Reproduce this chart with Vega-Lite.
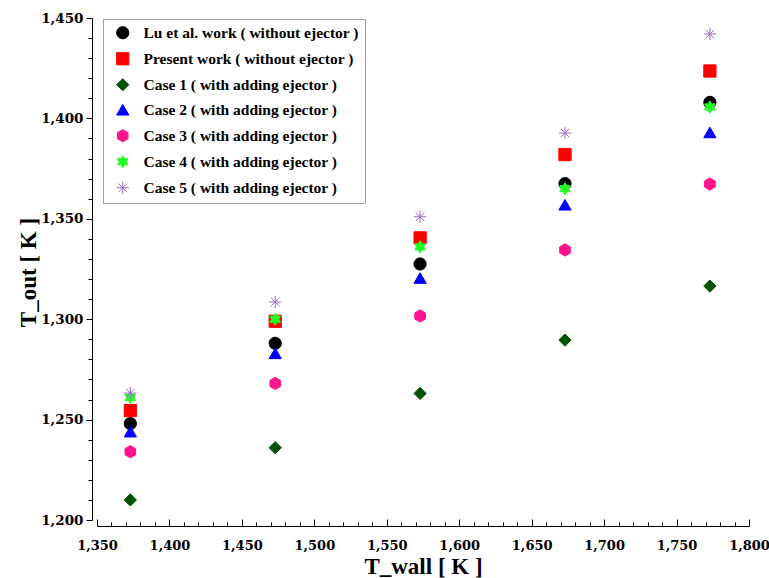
{
  "$schema": "https://vega.github.io/schema/vega-lite/v6.json",
  "width": 652,
  "height": 502,
  "autosize": {"type": "none"},
  "padding": {"left": 97, "top": 18, "right": 20, "bottom": 58},
  "background": "white",
  "config": {"view": {"stroke": null}, "font": "Liberation Serif"},
  "data": {
    "values": [
      {"series": "Lu et al. work ( without ejector )", "T_wall": 1373, "T_out": 1248},
      {"series": "Lu et al. work ( without ejector )", "T_wall": 1473, "T_out": 1288},
      {"series": "Lu et al. work ( without ejector )", "T_wall": 1573, "T_out": 1327.5},
      {"series": "Lu et al. work ( without ejector )", "T_wall": 1673, "T_out": 1367.5},
      {"series": "Lu et al. work ( without ejector )", "T_wall": 1773, "T_out": 1408},
      {"series": "Present work ( without ejector )", "T_wall": 1373, "T_out": 1254.5},
      {"series": "Present work ( without ejector )", "T_wall": 1473, "T_out": 1299},
      {"series": "Present work ( without ejector )", "T_wall": 1573, "T_out": 1340.5},
      {"series": "Present work ( without ejector )", "T_wall": 1673, "T_out": 1382},
      {"series": "Present work ( without ejector )", "T_wall": 1773, "T_out": 1423.6},
      {"series": "Case 1 ( with adding ejector )", "T_wall": 1373, "T_out": 1210},
      {"series": "Case 1 ( with adding ejector )", "T_wall": 1473, "T_out": 1236},
      {"series": "Case 1 ( with adding ejector )", "T_wall": 1573, "T_out": 1263},
      {"series": "Case 1 ( with adding ejector )", "T_wall": 1673, "T_out": 1289.6},
      {"series": "Case 1 ( with adding ejector )", "T_wall": 1773, "T_out": 1316.5},
      {"series": "Case 2 ( with adding ejector )", "T_wall": 1373, "T_out": 1244},
      {"series": "Case 2 ( with adding ejector )", "T_wall": 1473, "T_out": 1283},
      {"series": "Case 2 ( with adding ejector )", "T_wall": 1573, "T_out": 1320.5},
      {"series": "Case 2 ( with adding ejector )", "T_wall": 1673, "T_out": 1357},
      {"series": "Case 2 ( with adding ejector )", "T_wall": 1773, "T_out": 1393},
      {"series": "Case 3 ( with adding ejector )", "T_wall": 1373, "T_out": 1234},
      {"series": "Case 3 ( with adding ejector )", "T_wall": 1473, "T_out": 1268},
      {"series": "Case 3 ( with adding ejector )", "T_wall": 1573, "T_out": 1301.6},
      {"series": "Case 3 ( with adding ejector )", "T_wall": 1673, "T_out": 1334.5},
      {"series": "Case 3 ( with adding ejector )", "T_wall": 1773, "T_out": 1367.3},
      {"series": "Case 4 ( with adding ejector )", "T_wall": 1373, "T_out": 1261},
      {"series": "Case 4 ( with adding ejector )", "T_wall": 1473, "T_out": 1300},
      {"series": "Case 4 ( with adding ejector )", "T_wall": 1573, "T_out": 1336},
      {"series": "Case 4 ( with adding ejector )", "T_wall": 1673, "T_out": 1365},
      {"series": "Case 4 ( with adding ejector )", "T_wall": 1773, "T_out": 1405.7},
      {"series": "Case 5 ( with adding ejector )", "T_wall": 1373, "T_out": 1263.2},
      {"series": "Case 5 ( with adding ejector )", "T_wall": 1473, "T_out": 1308.6},
      {"series": "Case 5 ( with adding ejector )", "T_wall": 1573, "T_out": 1351},
      {"series": "Case 5 ( with adding ejector )", "T_wall": 1673, "T_out": 1392.7},
      {"series": "Case 5 ( with adding ejector )", "T_wall": 1773, "T_out": 1442}
    ]
  },
  "mark": {"type": "point", "filled": true, "size": 150, "strokeWidth": 1, "opacity": 1},
  "encoding": {
    "x": {
      "field": "T_wall",
      "type": "quantitative",
      "scale": {"domain": [1350, 1800], "nice": false, "zero": false},
      "axis": {
        "title": "T_wall [ K ]",
        "offset": 6,
        "values": [1350,1360,1370,1380,1390,1400,1410,1420,1430,1440,1450,1460,1470,1480,1490,1500,1510,1520,1530,1540,1550,1560,1570,1580,1590,1600,1610,1620,1630,1640,1650,1660,1670,1680,1690,1700,1710,1720,1730,1740,1750,1760,1770,1780,1790,1800],
        "labelExpr": "datum.value % 50 === 0 ? format(datum.value, ',') : ''",
        "tickSize": {"condition": {"test": "datum.value % 50 === 0", "value": -7}, "value": -4},
        "labelPadding": 20,
        "labelFont": "DejaVu Serif",
        "labelFontSize": 13,
        "labelFontWeight": "bold",
        "labelColor": "black",
        "labelFlush": false,
        "labelOverlap": false,
        "domainColor": "black",
        "tickColor": "black",
        "grid": false,
        "titleFont": "Liberation Serif",
        "titleFontSize": 23,
        "titleFontWeight": "bold",
        "titleColor": "black",
        "titleBaseline": "alphabetic",
        "titleY": 47
      }
    },
    "y": {
      "field": "T_out",
      "type": "quantitative",
      "scale": {"domain": [1200, 1450], "nice": false, "zero": false},
      "axis": {
        "title": "T_out [ K ]",
        "offset": 5,
        "values": [1200,1210,1220,1230,1240,1250,1260,1270,1280,1290,1300,1310,1320,1330,1340,1350,1360,1370,1380,1390,1400,1410,1420,1430,1440,1450],
        "labelExpr": "datum.value % 50 === 0 ? format(datum.value, ',') : ''",
        "tickSize": {"condition": {"test": "datum.value % 50 === 0", "value": 6}, "value": 4},
        "labelPadding": 3,
        "labelFont": "DejaVu Serif",
        "labelFontSize": 13.5,
        "labelFontWeight": "bold",
        "labelColor": "black",
        "labelFlush": false,
        "labelOverlap": false,
        "domainColor": "black",
        "tickColor": "black",
        "grid": false,
        "titleFont": "Liberation Serif",
        "titleFontSize": 23,
        "titleFontWeight": "bold",
        "titleColor": "black",
        "titleBaseline": "alphabetic",
        "titleX": -57,
        "titleY": 254
      }
    },
    "shape": {
      "field": "series",
      "type": "nominal",
      "scale": {
        "domain": ["Lu et al. work ( without ejector )", "Present work ( without ejector )", "Case 1 ( with adding ejector )", "Case 2 ( with adding ejector )", "Case 3 ( with adding ejector )", "Case 4 ( with adding ejector )", "Case 5 ( with adding ejector )"],
        "range": ["circle", "square", "diamond", "triangle-up", "M0,-1L0.866,-0.5L0.866,0.5L0,1L-0.866,0.5L-0.866,-0.5Z", "M0,-1L0.289,-0.5L0.866,-0.5L0.577,0L0.866,0.5L0.289,0.5L0,1L-0.289,0.5L-0.866,0.5L-0.577,0L-0.866,-0.5L-0.289,-0.5Z", "M0,-1L0,1M-1,0L1,0M-0.7,-0.7L0.7,0.7M-0.7,0.7L0.7,-0.7"]
      },
      "legend": {
        "title": null,
        "orient": "none",
        "legendX": 6,
        "legendY": 1,
        "padding": 6,
        "strokeColor": "#a0a0a0",
        "fillColor": "white",
        "symbolSize": 150,
        "symbolStrokeWidth": 1,
        "symbolOffset": 6,
        "labelFont": "Liberation Serif",
        "labelFontSize": 15.5,
        "labelFontWeight": "bold",
        "labelColor": "black",
        "labelOffset": 13,
        "rowPadding": 8,
        "labelLimit": 400
      }
    },
    "fill": {
      "field": "series",
      "type": "nominal",
      "scale": {
        "domain": ["Lu et al. work ( without ejector )", "Present work ( without ejector )", "Case 1 ( with adding ejector )", "Case 2 ( with adding ejector )", "Case 3 ( with adding ejector )", "Case 4 ( with adding ejector )", "Case 5 ( with adding ejector )"],
        "range": ["#000000", "#ff0000", "#005200", "#0000ff", "#ff148c", "#22ff22", "transparent"]
      },
      "legend": {"title": null}
    },
    "stroke": {
      "field": "series",
      "type": "nominal",
      "scale": {
        "domain": ["Lu et al. work ( without ejector )", "Present work ( without ejector )", "Case 1 ( with adding ejector )", "Case 2 ( with adding ejector )", "Case 3 ( with adding ejector )", "Case 4 ( with adding ejector )", "Case 5 ( with adding ejector )"],
        "range": ["#000000", "#ff0000", "#005200", "#0000ff", "#ff148c", "#22ff22", "#9a6cc8"]
      },
      "legend": {"title": null}
    }
  }
}
